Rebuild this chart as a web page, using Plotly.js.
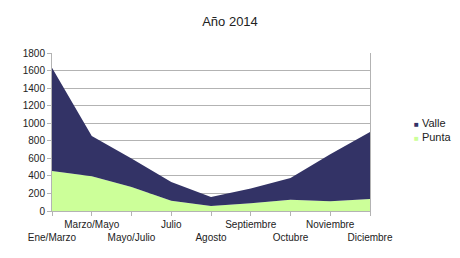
<!DOCTYPE html>
<html><head><meta charset="utf-8">
<script src="https://cdn.plot.ly/plotly-3.0.1.min.js"></script>
<style>html,body{margin:0;padding:0;background:#fff}#c{width:460px;height:258px}</style>
</head><body><div id="c"></div>
<script>
const categories = ["Ene/Marzo","Marzo/Mayo","Mayo/Julio","Julio","Agosto","Septiembre","Octubre","Noviembre","Diciembre"];
const punta = [455, 395, 273, 118, 57, 88, 128, 110, 138];
const valle = [1178, 459, 324, 212, 103, 167, 248, 536, 762];
const seriesNames = ["Valle","Punta"];
const colors = {Valle:"#333366", Punta:"#ccff99"};
const yTicks = [0,200,400,600,800,1000,1200,1400,1600,1800];

const tickText = categories.map((c,i)=> i%2===0 ? "<br>"+c : c);

const traces = [
  {x: categories, y: punta, name: "Punta", type: "scatter", mode: "none", stackgroup: "one",
   fillcolor: colors.Punta, line:{width:0}, showlegend:false},
  {x: categories, y: valle, name: "Valle", type: "scatter", mode: "none", stackgroup: "one",
   fillcolor: colors.Valle, line:{width:0}, showlegend:false}
];

const font = {family: "Liberation Sans, Arial, sans-serif", color: "#222"};
const annotations = seriesNames.map((n,i)=>({
  xref:"paper", yref:"paper", x: 1.0, xshift: 42, y: 0, yshift: (211-123) - i*13.7,
  xanchor:"left", yanchor:"middle", showarrow:false,
  text: '<span style="color:'+colors[n]+';font-size:8px">■</span> '+n,
  font: Object.assign({size:11}, font)
}));

const layout = {
  width: 460, height: 258,
  margin: {l:52, r:90, t:53, b:47},
  paper_bgcolor:"#fff", plot_bgcolor:"#fff",
  title: {text:"Año 2014", x:0.5, xanchor:"center", y: 1-21.5/258, yanchor:"middle",
          font: Object.assign({size:13}, font)},
  showlegend:false,
  xaxis: {type:"category", range:[0,8], tickmode:"array", tickvals: categories, ticktext: tickText,
          ticks:"outside", ticklen:4, tickcolor:"#b3b3b3", showgrid:false, zeroline:false,
          showline:true, linecolor:"#b3b3b3", linewidth:1, tickfont: Object.assign({size:10}, font),
          tickangle:0, fixedrange:true},
  yaxis: {range:[0,1800], tickmode:"array", tickvals:yTicks, ticks:"outside", ticklen:4,
          tickcolor:"#b3b3b3", showgrid:true, gridcolor:"#b3b3b3", zeroline:false,
          showline:true, linecolor:"#b3b3b3", mirror:true, linewidth:1,
          tickfont: Object.assign({size:10}, font), fixedrange:true},
  annotations: annotations
};
Plotly.newPlot("c", traces, layout, {displayModeBar:false, staticPlot:true});
</script></body></html>
